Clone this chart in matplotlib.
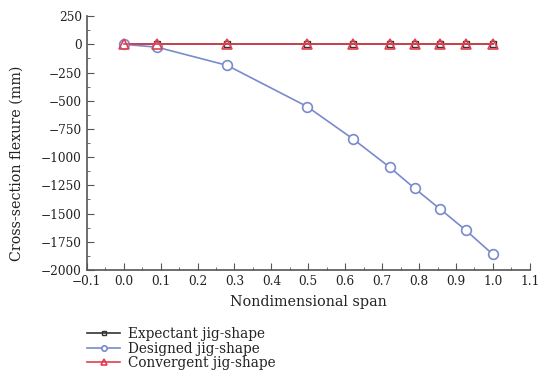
import matplotlib.pyplot as plt
from matplotlib.ticker import MultipleLocator

plt.rcParams['font.family'] = ['DejaVu Serif']
plt.rcParams['axes.unicode_minus'] = True

span = [0.0, 0.09, 0.28, 0.497, 0.62, 0.72, 0.788, 0.856, 0.926, 1.0]
expectant = [0, 0, 0, 0, 0, 0, 0, 0, 0, 0]
designed = [0, -25, -186, -552, -836, -1088, -1277, -1457, -1646, -1862]
convergent = [0, 0, 0, 0, 0, 0, 0, 0, 0, 0]

fig = plt.figure(figsize=(5.39, 3.75), dpi=100)
ax = fig.add_axes([0.161, 0.28, 0.822, 0.677])

ax.plot(span, expectant, color='#333333', marker='s', ms=5, mfc='none', lw=1.2,
        label='Expectant jig-shape')
ax.plot(span, designed, color='#7a8acc', marker='o', ms=7, mfc='white', mew=1.2, lw=1.2,
        label='Designed jig-shape')
ax.plot(span, convergent, color='#e04050', marker='^', ms=7, mfc='none', mew=1.2, lw=1.2,
        label='Convergent jig-shape')

ax.set_xlim(-0.1, 1.1)
ax.set_ylim(-2000, 250)
ax.xaxis.set_major_locator(MultipleLocator(0.1))
ax.xaxis.set_minor_locator(MultipleLocator(0.05))
ax.yaxis.set_major_locator(MultipleLocator(250))
ax.yaxis.set_minor_locator(MultipleLocator(125))
ax.set_xticklabels([f'{v:.1f}'.replace('-', '\u2212') for v in ax.get_xticks()])
ax.tick_params(which='both', direction='in', labelsize=8.7, color='#555555',
               labelcolor='#222222')
ax.tick_params(which='major', length=5)
ax.tick_params(which='minor', length=2.5)
for s in ['top', 'right']:
    ax.spines[s].set_visible(False)
for s in ['left', 'bottom']:
    ax.spines[s].set_color('#555555')
    ax.spines[s].set_linewidth(1.2)

ax.set_xlabel('Nondimensional span', fontsize=10.4, labelpad=5, color='#222222')
ax.set_ylabel('Cross-section flexure (mm)', fontsize=10.3, color='#222222')
ax.yaxis.set_label_coords(-0.143, 0.42)

fig.legend(loc='upper left', bbox_to_anchor=(0.152, 0.143), frameon=False,
           fontsize=9.8, handlelength=2.4, handletextpad=0.6, labelspacing=0.05,
           borderaxespad=0, markerscale=0.55, labelcolor='#222222')

fig.savefig('out.png', dpi=100)
